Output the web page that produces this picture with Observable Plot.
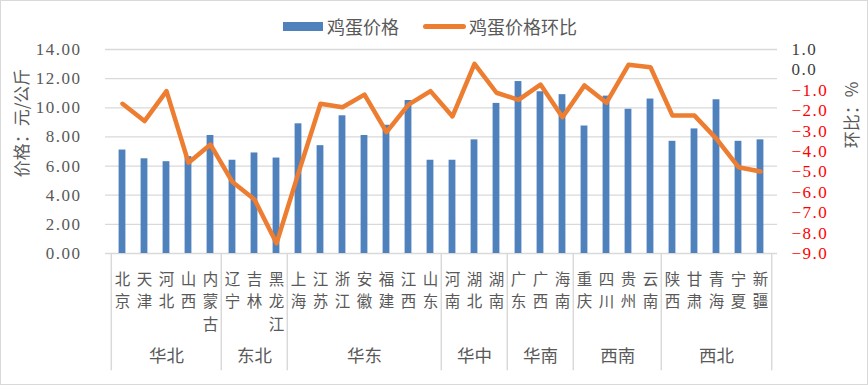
<!DOCTYPE html>
<html><head><meta charset="utf-8">
<script src="https://cdn.jsdelivr.net/npm/d3@7"></script>
<script src="https://cdn.jsdelivr.net/npm/@observablehq/plot@0.6"></script>
<style>
body{margin:0;background:#fff;}
#wrap{position:relative;width:868px;height:385px;overflow:hidden;background:#fff;font-family:"Noto Sans CJK SC",sans-serif;color:#595959;}
#frame{position:absolute;left:0;top:0;width:866px;height:383px;border:1px solid #d9d9d9;pointer-events:none;}
#chart{position:absolute;left:0;top:0;}
.leg{position:absolute;font-size:18px;line-height:18px;top:17px;white-space:nowrap;}
.sw{position:absolute;}
.ytitle{position:absolute;font-size:17px;white-space:nowrap;transform:translate(-50%,-50%) rotate(-90deg);line-height:17px;}
g[aria-label="y-axis tick label"] text{letter-spacing:1.5px;font-family:"Liberation Serif",serif;}
</style>
</head><body>
<div id="wrap">
  <div id="chart"></div>
  <div class="sw" style="left:283px;top:22px;width:40px;height:9px;background:#4f81bd;"></div>
  <div class="leg" style="left:327px;">鸡蛋价格</div>
  <div class="sw" style="left:423px;top:24px;width:43px;height:5px;border-radius:3px;background:#ed7d31;"></div>
  <div class="leg" style="left:469px;">鸡蛋价格环比</div>
  <div class="ytitle" style="left:20px;top:123px;">价格：元/公斤</div>
  <div class="ytitle" style="left:850px;top:115px;">环比：%</div>
  <div id="frame"></div>
</div>
<script>
const provinces = ["北京","天津","河北","山西","内蒙古","辽宁","吉林","黑龙江","上海","江苏","浙江","安徽","福建","江西","山东","河南","湖北","湖南","广东","广西","海南","重庆","四川","贵州","云南","陕西","甘肃","青海","宁夏","新疆"];
const regions = ["华北","东北","华东","华中","华南","西南","西北"];
const regionSizes = [5,3,7,3,3,4,5];
const eggPrice = [7.1,6.5,6.3,6.65,8.1,6.4,6.9,6.55,8.9,7.4,9.45,8.1,8.8,10.5,6.4,6.4,7.8,10.3,11.8,11.1,10.9,8.75,10.8,9.9,10.6,7.7,8.55,10.55,7.7,7.8];
const priceMoM = [-1.66,-2.51,-1.04,-4.55,-3.66,-5.5,-6.35,-8.5,-5.05,-1.66,-1.83,-1.21,-3.05,-1.7,-1.04,-2.28,0.3,-1.12,-1.47,-0.72,-2.32,-0.76,-1.61,0.25,0.13,-2.24,-2.24,-3.38,-4.77,-4.98];
const priceTicks = [0,2,4,6,8,10,12,14];
const momTicks = [1,0,-1,-2,-3,-4,-5,-6,-7,-8,-9];

// map the right-axis domain [-9, 1] onto the left-axis domain [0, 14]
const momToPrice = v => (v + 9) * 1.4;
const priceToMom = p => p / 1.4 - 9;

const W = 868, H = 385, ML = 105, MR = 91, MT = 49, MB = 132;
const step = (W - ML - MR) / provinces.length;

const rows = provinces.map((p, i) => ({p, price: eggPrice[i], mom: momToPrice(priceMoM[i])}));

// region groups
let start = 0;
const groups = regions.map((r, i) => {
  const n = regionSizes[i];
  const g = {r, n, first: provinces[start], mid: provinces[start + Math.floor((n - 1) / 2)]};
  start += n;
  return g;
});
const boundaries = groups.map(g => g.first);

const numFont = "Liberation Serif";
const fmtMom = d => { const v = priceToMom(d); const s = Math.abs(v).toFixed(1); return (v < -0.05 ? "\u2212" : "") + s; };

const chart = Plot.plot({
  width: W, height: H,
  marginLeft: ML, marginRight: MR, marginTop: MT, marginBottom: MB,
  style: {fontFamily: "Noto Sans CJK SC", color: "#595959", background: "transparent"},
  x: {type: "band", domain: provinces, padding: 0},
  y: {domain: [0, 14]},
  marks: [
    Plot.ruleY(priceTicks, {stroke: "#d9d9d9", strokeWidth: 1.3}),
    Plot.barY(rows, {x: "p", y: "price", fill: "#4f81bd", insetLeft: 7.6, insetRight: 7.6}),
    Plot.line(rows, {x: "p", y: "mom", stroke: "#ed7d31", strokeWidth: 4.5, strokeLinejoin: "round", strokeLinecap: "round"}),
    // category separators below axis
    Plot.ruleX(boundaries, {x: d => d, dx: -step / 2, y1: 0, y2: -8.05, stroke: "#d9d9d9", strokeWidth: 1.5}),
    Plot.ruleX([provinces[provinces.length - 1]], {x: d => d, dx: step / 2, y1: 0, y2: -8.05, stroke: "#d9d9d9", strokeWidth: 1.5}),
    Plot.axisX({tickSize: 0, tickPadding: 15, fontSize: 15.5, lineHeight: 1.46, lineAnchor: "top", fill: "#595959", label: null,
      tickFormat: d => Array.from(d).join("\n")}),
    Plot.axisY(priceTicks, {anchor: "left", tickSize: 0, tickPadding: 24, fontSize: 17, fontFamily: numFont, fill: "#595959", label: null,
      tickFormat: d => d.toFixed(2)}),
    Plot.axisY(momTicks.filter(d => d >= 0).map(momToPrice), {anchor: "right", tickSize: 0, tickPadding: 14, fontSize: 17, fontFamily: numFont, fill: "#404040", label: null, tickFormat: fmtMom}),
    Plot.axisY(momTicks.filter(d => d < 0).map(momToPrice), {anchor: "right", tickSize: 0, tickPadding: 14, fontSize: 17, fontFamily: numFont, fill: "#ff0000", label: null, tickFormat: fmtMom}),
    // region labels
    Plot.text(groups.filter(g => g.n % 2 === 1), {x: "mid", text: "r", frameAnchor: "bottom", dy: 108, fontSize: 17.5, fill: "#595959"}),
    Plot.text(groups.filter(g => g.n % 2 === 0), {x: "mid", text: "r", frameAnchor: "bottom", dy: 108, dx: step / 2, fontSize: 17.5, fill: "#595959"})
  ]
});
document.getElementById("chart").appendChild(chart);
</script>
</body></html>
